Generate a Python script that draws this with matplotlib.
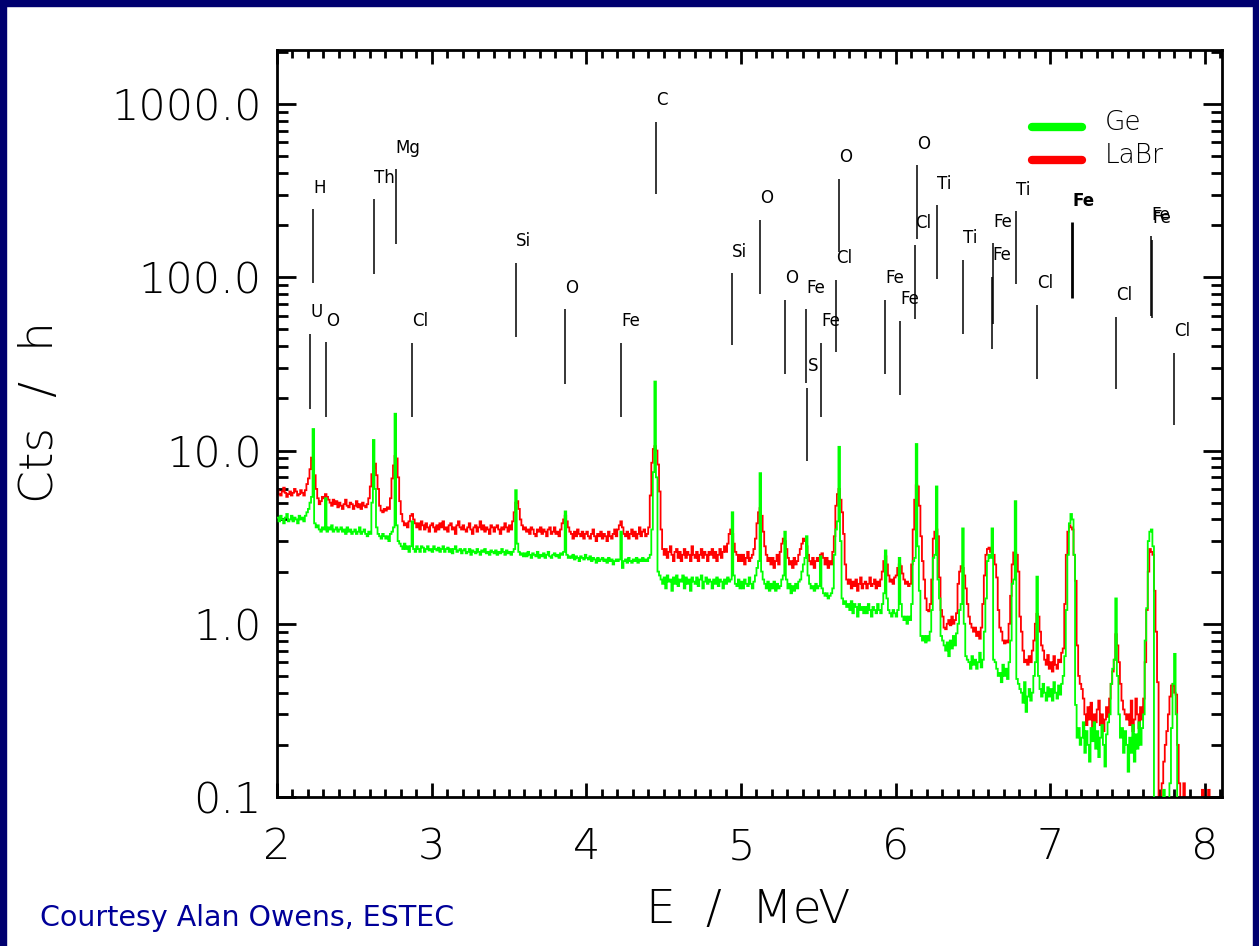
import matplotlib
matplotlib.use("Agg")
import matplotlib.pyplot as plt
import numpy as np
from matplotlib.patches import Rectangle
from matplotlib.ticker import FixedLocator, MultipleLocator, LogLocator, NullFormatter

plt.rcParams['font.family'] = ['DejaVu Sans']

# ---------------- data ----------------
E_START = 2.0      # MeV, first bin edge
BIN_WIDTH = 0.01   # MeV

# LaBr spectrum (Cts / h), one value per 0.01 MeV bin from 2.00 MeV
labr = [
    5.9, 5.6, 5.5, 5.8, 6.1, 5.7, 5.4, 5.6, 5.8, 5.5,            # 2.0
    5.7, 6.0, 5.8, 5.5, 5.6, 5.9, 5.7, 5.5, 5.9, 6.4,            # 2.1
    6.9, 7.8, 9.1, 8.8, 7.2, 6.0, 5.3, 4.9, 5.1, 5.4,            # 2.2
    5.3, 5.6, 5.4, 5.2, 5.0, 4.8, 5.2, 4.9, 5.1, 4.7,            # 2.3
    5.0, 4.8, 4.6, 4.9, 5.2, 4.8, 4.7, 5.0, 4.9, 4.6,            # 2.4
    4.8, 5.1, 4.7, 4.9, 4.6, 5.0, 4.8, 4.7, 4.9, 5.3,            # 2.5
    6.2, 7.3, 8.0, 8.4, 7.2, 6.0, 4.8, 4.5, 4.4, 4.6,            # 2.6
    4.5, 4.7, 4.6, 5.3, 6.9, 8.2, 9.3, 9.0, 7.0, 5.1,            # 2.7
    4.3, 3.9, 3.7, 3.8, 3.6, 3.9, 4.2, 4.3, 4.0, 3.8,            # 2.8
    3.6, 3.8, 3.5, 3.9, 3.7, 3.5, 3.8, 3.6, 3.4, 3.7,            # 2.9
    3.8, 3.6, 3.4, 3.7, 3.5, 3.8, 3.6, 3.9, 3.5, 3.6,            # 3.0
    3.4, 3.7, 3.8, 3.5, 3.6, 3.3, 3.7, 3.9, 3.6, 3.5,            # 3.1
    3.7, 3.5, 3.4, 3.6, 3.8, 3.5, 3.3, 3.6, 3.7, 3.4,            # 3.2
    3.6, 3.9, 3.5, 3.7, 3.4, 3.6, 3.5, 3.3, 3.7, 3.6,            # 3.3
    3.4, 3.6, 3.7, 3.5, 3.3, 3.6, 3.5, 3.8, 3.6, 3.4,            # 3.4
    3.7, 3.5, 3.9, 4.4, 5.0, 5.1, 4.6, 4.0, 3.7, 3.5,            # 3.5
    3.6, 3.4, 3.5, 3.3, 3.6, 3.5, 3.3, 3.2, 3.5, 3.4,            # 3.6
    3.6, 3.3, 3.5, 3.4, 3.2, 3.5, 3.6, 3.3, 3.4, 3.6,            # 3.7
    3.3, 3.4, 3.2, 3.5, 3.8, 4.0, 4.2, 3.9, 3.6, 3.4,            # 3.8
    3.3, 3.1, 3.4, 3.2, 3.5, 3.3, 3.2, 3.4, 3.1, 3.3,            # 3.9
    3.4, 3.2, 3.1, 3.3, 3.5, 3.2, 3.0, 3.3, 3.2, 3.4,            # 4.0
    3.1, 3.3, 3.2, 3.0, 3.4, 3.2, 3.1, 3.3, 3.5, 3.2,            # 4.1
    3.5, 3.7, 3.9, 3.6, 3.3, 3.2, 3.4, 3.1, 3.3, 3.5,            # 4.2
    3.2, 3.4, 3.1, 3.3, 3.6, 3.2, 3.4, 3.5, 3.2, 3.3,            # 4.3
    3.6, 5.5, 8.5, 10.2, 10.6, 10.0, 8.3, 5.8, 3.5, 2.7,         # 4.4
    2.5, 2.7, 2.4, 2.6, 2.8, 2.5, 2.3, 2.6, 2.7, 2.4,            # 4.5
    2.6, 2.3, 2.5, 2.7, 2.4, 2.6, 2.5, 2.3, 2.8, 2.5,            # 4.6
    2.4, 2.6, 2.3, 2.5, 2.7, 2.4, 2.6, 2.5, 2.3, 2.6,            # 4.7
    2.5, 2.7, 2.4, 2.6, 2.3, 2.5, 2.7, 2.4, 2.6, 2.8,            # 4.8
    2.6, 2.9, 3.3, 3.5, 3.3, 2.9, 2.6, 2.5, 2.3, 2.5,            # 4.9
    2.3, 2.5, 2.2, 2.4, 2.6, 2.3, 2.4, 2.5, 2.7, 3.1,            # 5.0
    3.8, 4.4, 4.65, 4.2, 3.4, 2.8, 2.5, 2.3, 2.4, 2.2,           # 5.1
    2.4, 2.1, 2.3, 2.5, 2.2, 2.6, 2.9, 3.1, 3.0, 2.7,            # 5.2
    2.4, 2.2, 2.3, 2.1, 2.4, 2.2, 2.3, 2.5, 2.7, 2.9,            # 5.3
    3.1, 3.0, 2.8, 2.5, 2.3, 2.2, 2.4, 2.1, 2.3, 2.4,            # 5.4
    2.3, 2.5, 2.55, 2.4, 2.2, 2.4, 2.1, 2.3, 2.2, 2.6,           # 5.5
    3.2, 4.8, 5.6, 6.0, 5.2, 4.4, 3.3, 2.2, 1.8, 1.7,            # 5.6
    1.8, 1.6, 1.75, 1.65, 1.8, 1.55, 1.7, 1.85, 1.6, 1.7,        # 5.7
    1.75, 1.6, 1.7, 1.85, 1.65, 1.7, 1.8, 1.6, 1.75, 1.65,       # 5.8
    1.8, 2.0, 2.3, 2.45, 2.2, 1.9, 1.75, 1.8, 1.7, 1.85,         # 5.9
    1.9, 2.1, 2.2, 2.15, 1.95, 1.8, 1.7, 1.75, 1.65, 1.7,        # 6.0
    2.2, 3.5, 5.2, 6.3, 6.2, 4.8, 3.2, 2.3, 1.8, 1.4,            # 6.1
    1.2, 1.18, 1.3, 1.8, 3.1, 3.4, 3.5, 3.2, 1.85, 1.2,          # 6.2
    1.1, 0.95, 0.93, 1.0, 1.05, 0.98, 1.1, 1.0, 1.05, 1.15,      # 6.3
    1.7, 2.0, 2.15, 2.1, 1.9, 1.6, 1.3, 1.1, 1.0, 0.95,          # 6.4
    0.9, 0.95, 0.85, 0.9, 0.82, 0.95, 1.3, 1.9, 2.5, 2.7,        # 6.5
    2.75, 2.6, 2.7, 2.5, 2.2, 1.85, 1.2, 0.95, 0.9, 0.8,         # 6.6
    0.77, 0.8, 0.78, 1.0, 1.45, 2.2, 2.58, 2.55, 2.5, 2.0,       # 6.7
    1.1, 0.9, 0.7, 0.6, 0.62, 0.58, 0.65, 0.6, 0.7, 0.8,         # 6.8
    1.0, 1.14, 1.1, 0.9, 0.75, 0.7, 0.62, 0.58, 0.66, 0.55,      # 6.9
    0.6, 0.53, 0.65, 0.58, 0.55, 0.62, 0.6, 0.68, 0.72, 1.3,     # 7.0
    2.5, 3.4, 3.7, 3.6, 3.5, 2.5, 1.77, 0.75, 0.5, 0.45,         # 7.1
    0.42, 0.37, 0.3, 0.26, 0.33, 0.28, 0.35, 0.25, 0.3, 0.27,    # 7.2
    0.32, 0.36, 0.26, 0.3, 0.24, 0.28, 0.33, 0.29, 0.37, 0.45,   # 7.3
    0.53, 0.62, 0.87, 0.75, 0.6, 0.45, 0.36, 0.32, 0.3, 0.28,    # 7.4
    0.3, 0.26, 0.36, 0.24, 0.28, 0.37, 0.3, 0.25, 0.33, 0.28,    # 7.5
    0.37, 0.6, 1.2, 2.0, 2.7, 2.6, 2.5, 1.55, 0.9, 0.46,         # 7.6
    0.05, 0.05, 0.12, 0.16, 0.2, 0.24, 0.3, 0.38, 0.44, 0.45,    # 7.7
    0.4, 0.39, 0.2, 0.12, 0.05, 0.05, 0.12, 0.05, 0.05, 0.05,    # 7.8
    0.05, 0.05, 0.05, 0.05, 0.05, 0.05, 0.05, 0.05, 0.11, 0.05,  # 7.9
    0.05, 0.05, 0.11, 0.05, 0.05, 0.05, 0.05, 0.05, 0.05, 0.05,  # 8.0
]

# Ge spectrum (Cts / h), same bins
ge = [
    4.1, 3.9, 4.2, 4.0, 3.8, 4.1, 4.3, 3.9, 4.0, 4.2,            # 2.0
    3.9, 4.1, 4.0, 3.8, 4.2, 4.0, 4.1, 3.9, 4.2, 4.4,            # 2.1
    4.6, 5.0, 5.4, 13.3, 3.8, 3.6, 3.7, 3.5, 3.4, 3.6,           # 2.2
    3.5, 5.3, 3.4, 3.6, 3.5, 3.7, 3.4, 3.5, 3.6, 3.4,            # 2.3
    3.5, 3.6, 3.4, 3.5, 3.3, 3.6, 3.4, 3.5, 3.3, 3.4,            # 2.4
    3.5, 3.3, 3.4, 3.6, 3.3, 3.4, 3.5, 3.3, 3.2, 3.4,            # 2.5
    3.3, 5.0, 11.5, 6.0, 3.6, 3.3, 3.2, 3.1, 3.3, 3.2,           # 2.6
    3.1, 3.2, 3.0, 3.3, 3.4, 3.6, 16.3, 3.7, 3.0, 2.9,           # 2.7
    2.8, 2.7, 2.9, 2.7, 2.8, 2.6, 2.8, 3.9, 2.7, 2.6,            # 2.8
    2.8, 2.7, 2.6, 2.8, 2.75, 2.6, 2.7, 2.8, 2.65, 2.7,          # 2.9
    2.6, 2.8, 2.7, 2.65, 2.75, 2.6, 2.7, 2.8, 2.6, 2.7,          # 3.0
    2.75, 2.6, 2.7, 2.55, 2.7, 2.8, 2.6, 2.65, 2.7, 2.55,        # 3.1
    2.65, 2.7, 2.55, 2.6, 2.7, 2.5, 2.65, 2.6, 2.55, 2.7,        # 3.2
    2.6, 2.5, 2.65, 2.6, 2.7, 2.55, 2.6, 2.5, 2.65, 2.6,         # 3.3
    2.55, 2.65, 2.5, 2.6, 2.55, 2.7, 2.6, 2.5, 2.65, 2.55,       # 3.4
    2.6, 2.5, 2.6, 2.7, 5.9, 2.9, 2.6, 2.5, 2.55, 2.45,          # 3.5
    2.55, 2.45, 2.6, 2.5, 2.4, 2.55, 2.5, 2.45, 2.6, 2.4,        # 3.6
    2.5, 2.45, 2.55, 2.4, 2.5, 2.6, 2.45, 2.4, 2.5, 2.55,        # 3.7
    2.45, 2.5, 2.4, 2.55, 2.5, 2.6, 4.45, 2.5, 2.4, 2.45,        # 3.8
    2.4, 2.5, 2.35, 2.45, 2.4, 2.3, 2.45, 2.4, 2.35, 2.5,        # 3.9
    2.4, 2.35, 2.45, 2.3, 2.4, 2.35, 2.25, 2.4, 2.3, 2.35,       # 4.0
    2.4, 2.3, 2.35, 2.25, 2.4, 2.3, 2.35, 2.2, 2.3, 2.35,        # 4.1
    2.3, 2.35, 3.4, 2.1, 2.3, 2.35, 2.25, 2.4, 2.3, 2.25,        # 4.2
    2.35, 2.3, 2.4, 2.25, 2.35, 2.3, 2.4, 2.3, 2.35, 2.3,        # 4.3
    2.4, 2.5, 3.5, 7.5, 25.0, 7.0, 2.0, 1.9, 1.8, 1.7,           # 4.4
    1.85, 1.6, 1.9, 1.75, 1.8, 1.55, 1.85, 1.7, 1.9, 1.65,       # 4.5
    1.8, 1.75, 1.9, 1.6, 1.85, 1.7, 1.8, 1.55, 1.85, 1.75,       # 4.6
    1.7, 1.85, 1.65, 1.8, 1.9, 1.6, 1.75, 1.85, 1.7, 1.8,        # 4.7
    1.75, 1.6, 1.8, 1.7, 1.85, 1.65, 1.8, 1.75, 1.6, 1.8,        # 4.8
    1.7, 1.85, 1.75, 1.8, 4.4, 1.9, 1.7, 1.65, 1.8, 1.6,         # 4.9
    1.75, 1.6, 1.8, 1.7, 1.65, 1.85, 1.7, 1.6, 1.75, 1.9,        # 5.0
    2.1, 2.3, 7.4, 2.0, 1.8, 1.7, 1.6, 1.75, 1.55, 1.7,          # 5.1
    1.6, 1.75, 1.55, 1.7, 1.6, 1.65, 1.8, 1.9, 3.4, 1.8,         # 5.2
    1.6, 1.7, 1.5, 1.65, 1.55, 1.7, 1.6, 1.75, 1.8, 2.0,         # 5.3
    2.2, 2.4, 3.2, 1.9, 1.7, 1.6, 1.65, 1.55, 1.7, 1.6,          # 5.4
    1.65, 2.45, 1.6, 1.5, 1.45, 1.5, 1.4, 1.45, 1.5, 1.6,        # 5.5
    2.5, 3.5, 3.9, 10.5, 3.0, 1.4, 1.3, 1.35, 1.25, 1.3,         # 5.6
    1.2, 1.35, 1.15, 1.3, 1.25, 1.1, 1.3, 1.2, 1.25, 1.15,       # 5.7
    1.25, 1.15, 1.3, 1.2, 1.1, 1.25, 1.2, 1.15, 1.3, 1.2,        # 5.8
    1.15, 1.3, 1.5, 2.65, 1.4, 1.2, 1.15, 1.1, 1.2, 1.15,        # 5.9
    1.1, 1.2, 2.4, 1.3, 1.1, 1.05, 1.1, 1.0, 1.1, 1.05,          # 6.0
    1.3, 2.3, 2.4, 10.9, 2.8, 1.55, 0.85, 0.8, 0.85, 0.78,       # 6.1
    0.85, 0.8, 0.9, 1.2, 2.4, 2.5, 6.2, 1.8, 1.4, 0.85,          # 6.2
    0.8, 0.75, 0.7, 0.78, 0.65, 0.8, 0.72, 0.85, 0.75, 0.88,     # 6.3
    1.0, 1.2, 1.3, 3.55, 1.0, 0.65, 0.62, 0.6, 0.55, 0.65,       # 6.4
    0.58, 0.62, 0.55, 0.6, 0.68, 0.56, 0.62, 0.9, 1.4, 2.3,      # 6.5
    2.5, 2.4, 3.55, 0.62, 0.6, 0.55, 0.5, 0.52, 0.46, 0.58,      # 6.6
    0.5, 0.55, 0.48, 0.6, 0.8, 1.7, 1.8, 5.1, 0.48, 0.45,        # 6.7
    0.42, 0.4, 0.35, 0.46, 0.31, 0.38, 0.42, 0.36, 0.4, 0.5,     # 6.8
    0.6, 1.87, 0.5, 0.42, 0.38, 0.45, 0.4, 0.36, 0.43, 0.38,     # 6.9
    0.42, 0.36, 0.46, 0.4, 0.37, 0.44, 0.39, 0.45, 0.5, 0.65,    # 7.0
    1.2, 2.5, 3.8, 4.3, 4.0, 2.5, 0.34, 0.22, 0.25, 0.2,         # 7.1
    0.22, 0.27, 0.18, 0.24, 0.2, 0.16, 0.25, 0.21, 0.27, 0.19,   # 7.2
    0.24, 0.17, 0.22, 0.26, 0.2, 0.15, 0.23, 0.27, 0.3, 0.45,    # 7.3
    0.55, 0.62, 1.4, 0.5, 0.3, 0.22, 0.25, 0.18, 0.24, 0.2,      # 7.4
    0.14, 0.22, 0.18, 0.26, 0.16, 0.23, 0.19, 0.27, 0.2, 0.25,   # 7.5
    0.3, 0.8, 1.23, 3.0, 3.4, 3.5, 2.8, 0.05, 0.05, 0.05,        # 7.6
    0.05, 0.05, 0.05, 0.11, 0.05, 0.05, 0.05, 0.12, 0.25, 0.45,  # 7.7
    0.67, 0.3, 0.05, 0.05, 0.05, 0.05, 0.05, 0.05, 0.05, 0.05,   # 7.8
    0.05, 0.05, 0.05, 0.05, 0.05, 0.05, 0.05, 0.05, 0.05, 0.05,  # 7.9
    0.05, 0.05, 0.05, 0.05, 0.05, 0.05, 0.05, 0.05, 0.05, 0.05,  # 8.0
]

# identification lines: energy (MeV), lower and upper ends (Cts / h), element
line_energy = [2.215, 2.232, 2.318, 2.626, 2.767, 2.872, 3.545, 3.864, 4.226, 4.450,
               4.941, 5.124, 5.287, 5.423, 5.430, 5.518, 5.614, 5.632, 5.933, 6.028,
               6.124, 6.138, 6.266, 6.437, 6.625, 6.632, 6.776, 6.915, 7.142, 7.427,
               7.651, 7.657, 7.801]
line_low = [17.4, 93.2, 15.6, 105.1, 154.7, 15.6, 45.0, 24.3, 15.6, 304.0,
            40.6, 80.2, 27.8, 24.4, 8.7, 15.7, 37.2, 139.6, 27.7, 21.0,
            57.5, 165.4, 97.4, 47.1, 38.7, 54.0, 91.6, 25.9, 76.3, 22.7,
            60.1, 58.0, 14.05]
line_high = [47.2, 246.7, 42.1, 281.8, 420.4, 42.0, 120.6, 65.3, 42.0, 790.0,
             105.5, 215.1, 74.3, 65.3, 23.0, 42.0, 96.6, 371.5, 74.3, 56.0,
             154.1, 443.6, 260.3, 126.2, 101.0, 156.8, 240.2, 69.6, 207.5, 59.3,
             172.2, 165.0, 36.7]
line_label = ["U", "H", "O", "Th", "Mg", "Cl", "Si", "O", "Fe", "C",
              "Si", "O", "O", "Fe", "S", "Fe", "Cl", "O", "Fe", "Fe",
              "Cl", "O", "Ti", "Ti", "Fe", "Fe", "Ti", "Cl", "Fe", "Cl",
              "Fe", "Fe", "Cl"]
line_bold = ["Fe@7.142"]

series_names = ["Ge", "LaBr"]
series_colors = ["#00ff00", "#ff0000"]

y_ticks = [0.1, 1.0, 10.0, 100.0, 1000.0]
y_tick_labels = ["0.1", "1.0", "10.0", "100.0", "1000.0"]
x_ticks = [2, 3, 4, 5, 6, 7, 8]

# ---------------- figure ----------------
W, H = 1259, 946
fig = plt.figure(figsize=(W / 100, H / 100), dpi=100)
fig.patch.set_facecolor("white")

navy = "#000070"
fig.patches.append(Rectangle((0, 0), 6 / W, 1, transform=fig.transFigure, color=navy, zorder=0))
fig.patches.append(Rectangle((0, 1 - 6 / H), 1, 6 / H, transform=fig.transFigure, color=navy, zorder=0))
fig.patches.append(Rectangle((1 - 6 / W, 0), 6 / W, 1, transform=fig.transFigure, color=navy, zorder=0))

ax = fig.add_axes([277 / W, 149 / H, 945 / W, 747 / H])
ax.set_yscale("log")
ax.set_xlim(2.0, 8.11)
ax.set_ylim(0.1, 2050)

edges = E_START + BIN_WIDTH * np.arange(len(labr) + 1)
ax.stairs(labr, edges, baseline=None, color=series_colors[1], lw=1.3, zorder=2)
ax.stairs(ge, edges, baseline=None, color=series_colors[0], lw=1.3, zorder=3)

for e, lo, hi, lab in zip(line_energy, line_low, line_high, line_label):
    bold = f"{lab}@{e}" in line_bold
    ax.vlines(e, lo, hi, color="black", lw=2.0 if bold else 1.1, zorder=4)
    ax.annotate(lab, xy=(e, hi), xytext=(0, 12), textcoords="offset points",
                ha="left", va="baseline", fontsize=12,
                fontweight="bold" if bold else "normal", color="black")

# legend (drawn by hand like the original)
for i, (name, col) in enumerate(zip(series_names, series_colors)):
    yy = 0.897 - 0.044 * i
    ax.plot([0.799, 0.852], [yy, yy], transform=ax.transAxes, color=col,
            lw=6, solid_capstyle="round", zorder=5)
    ax.text(0.876, yy + 0.006, name, transform=ax.transAxes, fontsize=19,
            ha="left", va="center", color="black", fontweight="light")

# axes styling
for sp in ax.spines.values():
    sp.set_linewidth(2.0)
    sp.set_color("black")

ax.yaxis.set_major_locator(FixedLocator(y_ticks))
ax.set_yticklabels(y_tick_labels)
ax.yaxis.set_minor_locator(LogLocator(base=10, subs=np.arange(2, 10)))
ax.yaxis.set_minor_formatter(NullFormatter())
ax.xaxis.set_major_locator(FixedLocator(x_ticks))
ax.set_xticklabels([str(t) for t in x_ticks])
ax.xaxis.set_minor_locator(MultipleLocator(0.1))

ax.tick_params(which="both", direction="in", top=True, right=True, width=2.0,
               labelsize=31, labelcolor="black")
ax.tick_params(axis="y", which="major", length=14, pad=11)
ax.tick_params(axis="y", which="minor", length=8)
ax.tick_params(axis="x", which="major", length=10, pad=21)
ax.tick_params(axis="x", which="minor", length=5.5)
for t in ax.get_xticklabels() + ax.get_yticklabels():
    t.set_fontweight("light")

fig.text(40 / W, 1 - 412 / H, "Cts  /  h", rotation=90, ha="center", va="center",
         fontsize=34, fontweight="light")
fig.text(748 / W, 1 - 910 / H, "E  /  MeV", ha="center", va="center",
         fontsize=34, fontweight="light")
fig.text(40 / W, 1 - 918 / H, "Courtesy Alan Owens, ESTEC", ha="left", va="center",
         fontsize=20.5, color="#000099")

fig.savefig("out.png", dpi=100)
